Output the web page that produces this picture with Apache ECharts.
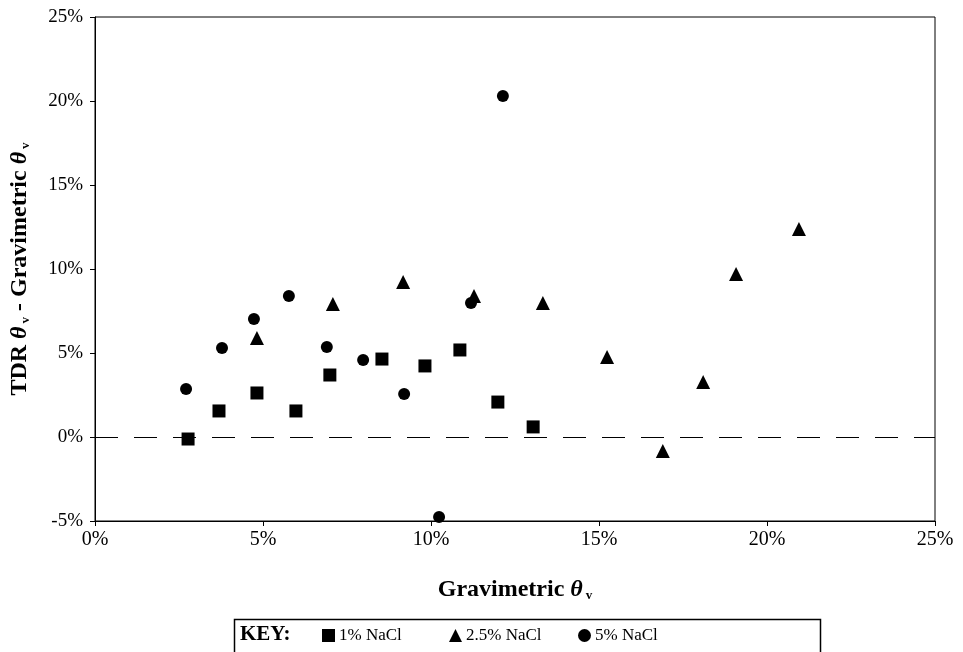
<!DOCTYPE html>
<html><head><meta charset="utf-8">
<script src="https://cdn.jsdelivr.net/npm/echarts@6/dist/echarts.min.js"></script>
<style>html,body{margin:0;padding:0;background:#fff}#c{width:963px;height:652px}</style>
</head><body><div id="c"></div>
<script>
const seriesNames = ['1% NaCl', '2.5% NaCl', '5% NaCl'];
const nacl1X = [2.77, 3.69, 4.82, 5.98, 6.99, 8.54, 9.82, 10.86, 11.99, 13.04];
const nacl1Y = [-0.12, 1.55, 2.62, 1.55, 3.69, 4.64, 4.23, 5.18, 2.08, 0.60];
const nacl25X = [4.82, 7.08, 9.17, 11.28, 13.33, 15.24, 16.90, 18.10, 19.08, 20.95];
const nacl25Y = [5.89, 7.92, 9.23, 8.39, 7.98, 4.76, -0.83, 3.27, 9.70, 12.38];
const nacl5X = [2.71, 3.78, 4.73, 5.77, 6.90, 7.98, 9.20, 10.24, 11.19, 12.14];
const nacl5Y = [2.86, 5.30, 7.02, 8.39, 5.36, 4.58, 2.56, -4.76, 7.98, 20.30];
const xTicks = [0, 5, 10, 15, 20, 25];
const yTicks = [-5, 0, 5, 10, 15, 20, 25];

const zip = (xs, ys) => xs.map((x, i) => [x, ys[i]]);
const font = 'Liberation Serif';
const chart = echarts.init(document.getElementById('c'), null, {renderer: 'canvas'});
const nameRich = {
  b: {fontFamily: font, fontWeight: 'bold', fontSize: 24, color: '#000'},
  t: {fontFamily: font, fontWeight: 'bold', fontStyle: 'italic', fontSize: 24, color: '#000'},
  s: {fontFamily: font, fontWeight: 'bold', fontSize: 13, color: '#000', verticalAlign: 'bottom', padding: [10, 0, 0, 3]}
};
const symbols = ['rect', 'triangle', 'circle'];
const legendLefts = [322, 449, 578];
chart.setOption({
  animation: false,
  backgroundColor: '#fff',
  grid: {left: 95, right: 28, top: 17, bottom: 131, show: true, borderColor: '#000', borderWidth: 1},
  xAxis: {
    type: 'value', min: xTicks[0], max: xTicks[xTicks.length - 1], interval: 5,
    axisLine: {onZero: false, lineStyle: {color: '#000', width: 1}},
    axisTick: {show: true, inside: false, length: 5, lineStyle: {color: '#000'}},
    splitLine: {show: false},
    axisLabel: {formatter: v => v + '%', fontFamily: font, fontSize: 20, color: '#000', margin: 9},
    name: '{b|Gravimetric }{t|θ}{s|v}', nameLocation: 'middle', nameGap: 57,
    nameTextStyle: {rich: nameRich}
  },
  yAxis: {
    type: 'value', min: yTicks[0], max: yTicks[yTicks.length - 1], interval: 5,
    axisLine: {onZero: false, lineStyle: {color: '#000', width: 1}},
    axisTick: {show: true, inside: false, length: 5, lineStyle: {color: '#000'}},
    splitLine: {show: false},
    axisLabel: {formatter: v => v + '%', fontFamily: font, fontSize: 19, color: '#000', margin: 12},
    name: '{b|TDR }{t|θ}{s|v}{b| - Gravimetric }{t|θ}{s|v}', nameLocation: 'middle', nameGap: 63, nameRotate: 90,
    nameTextStyle: {rich: nameRich}
  },
  legend: seriesNames.map((n, i) => ({
    left: legendLefts[i], top: 627, itemWidth: 13, itemHeight: 13, padding: 0,
    textStyle: {fontFamily: font, fontSize: 17, color: '#000', padding: [0, 0, 0, -1]},
    data: [{name: n, icon: symbols[i]}]
  })),
  graphic: [
    {type: 'rect', shape: {x: 234.5, y: 619.5, width: 586, height: 60}, style: {fill: 'none', stroke: '#000', lineWidth: 1.5}},
    {type: 'text', left: 240, top: 624, style: {text: 'KEY:', font: 'bold 21px "Liberation Serif"', fill: '#000'}}
  ],
  series: [
    {name: seriesNames[0], type: 'scatter', symbol: symbols[0], symbolSize: 13, itemStyle: {color: '#000', opacity: 1},
     data: zip(nacl1X, nacl1Y),
     markLine: {silent: true, symbol: 'none', label: {show: false},
       lineStyle: {color: '#000', type: [23, 16], width: 1.2}, data: [{yAxis: 0}]}},
    {name: seriesNames[1], type: 'scatter', symbol: symbols[1], symbolSize: 14, itemStyle: {color: '#000', opacity: 1},
     data: zip(nacl25X, nacl25Y)},
    {name: seriesNames[2], type: 'scatter', symbol: symbols[2], symbolSize: 12, itemStyle: {color: '#000', opacity: 1},
     data: zip(nacl5X, nacl5Y)}
  ]
});
</script></body></html>
